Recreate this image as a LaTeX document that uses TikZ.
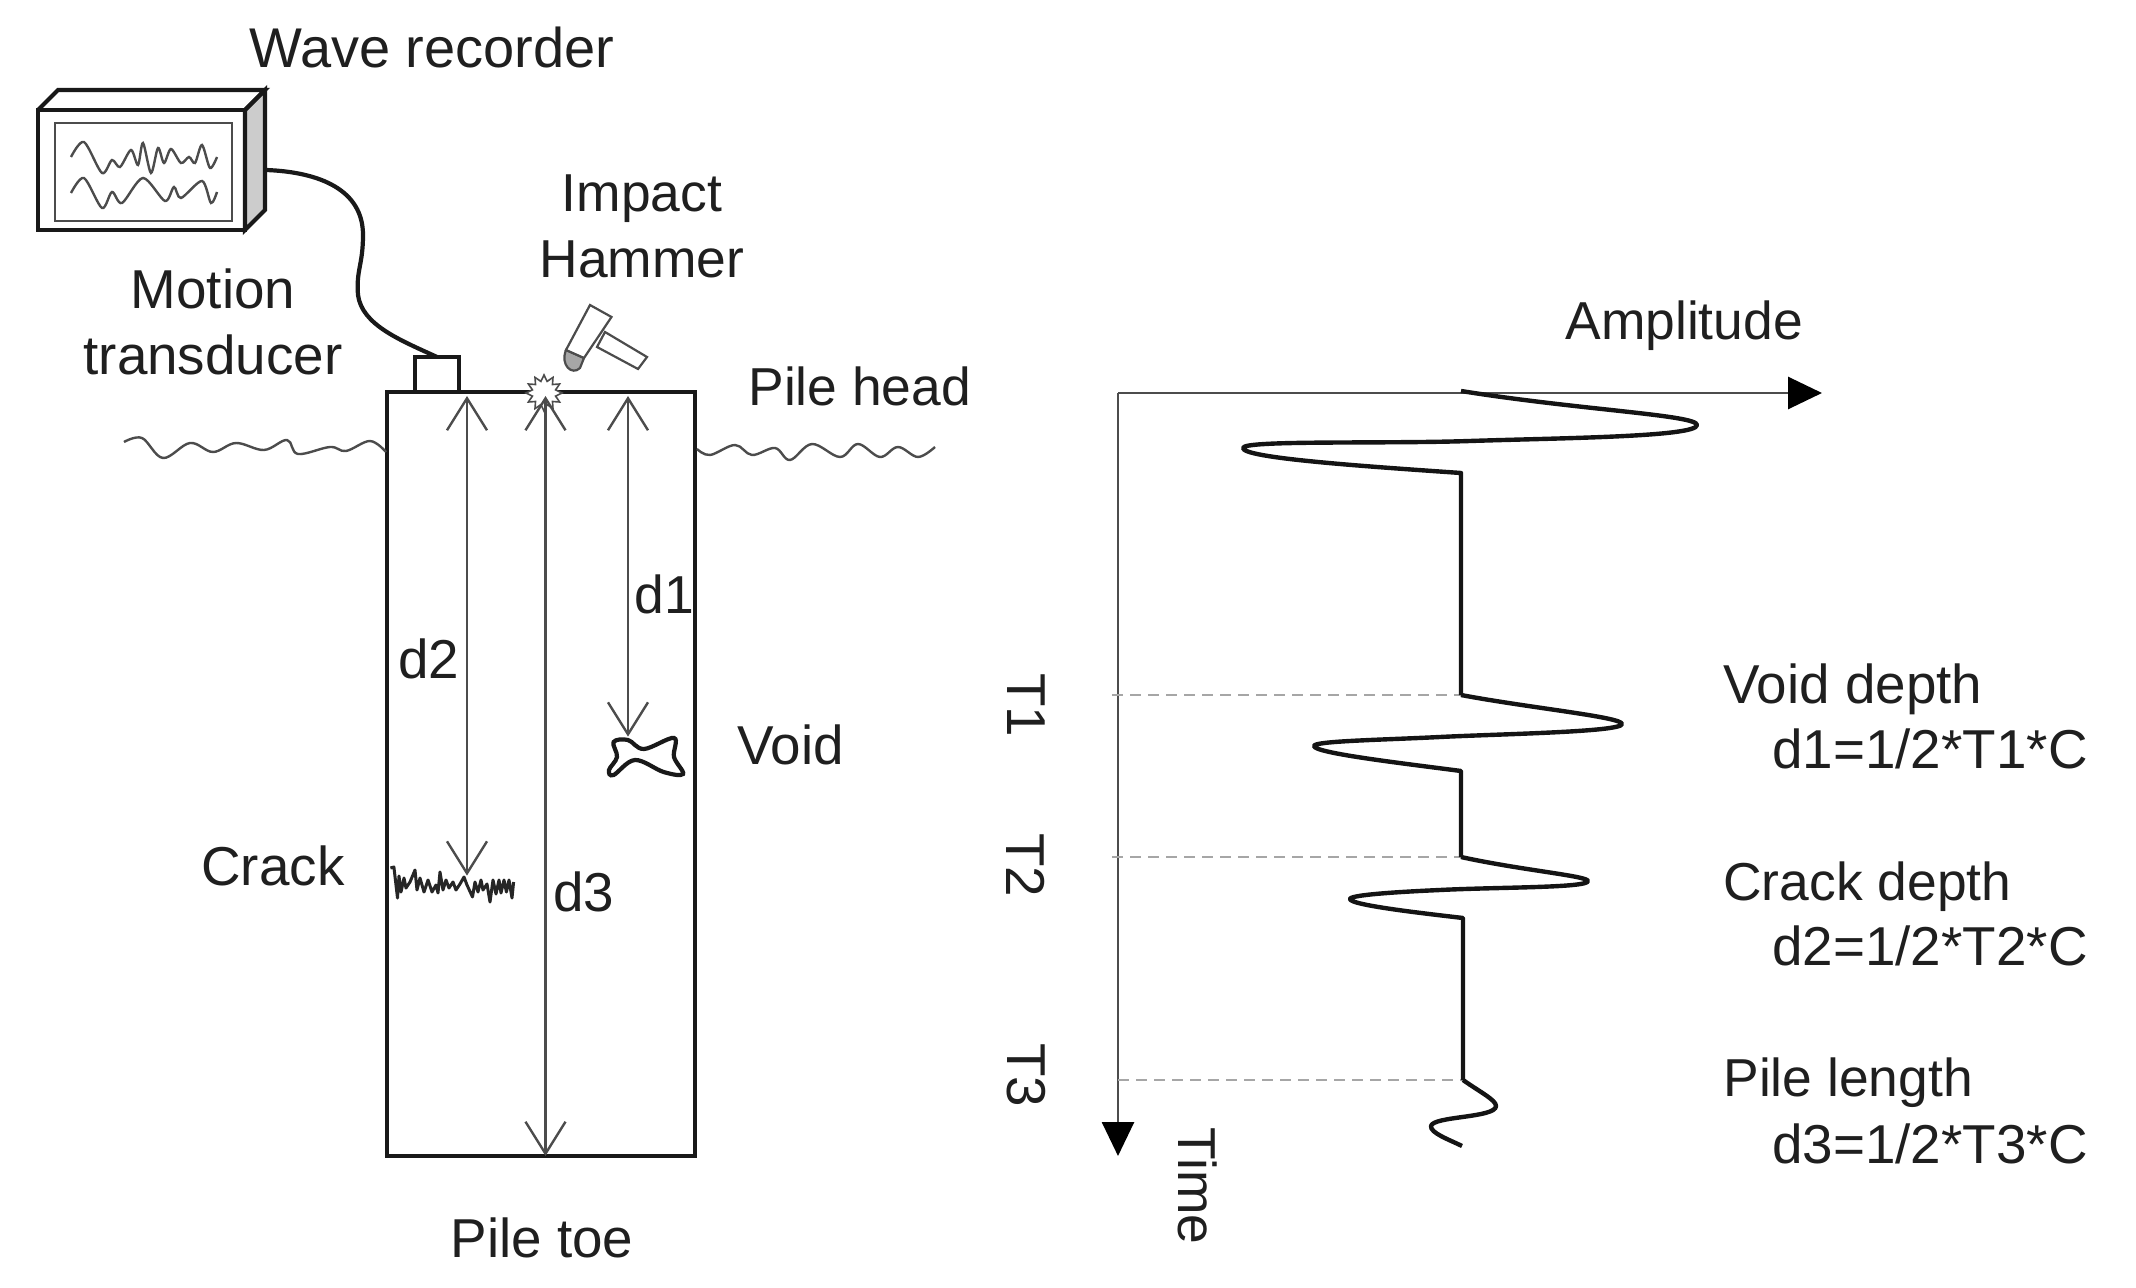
\documentclass[tikz,border=0pt]{standalone}
\usepackage{fontspec}
\setmainfont{Liberation Sans}
\usetikzlibrary{arrows.meta,shapes.geometric}

\begin{document}
\begin{tikzpicture}[x=0.5pt,y=-0.5pt]
\useasboundingbox (0,0) rectangle (2136,1288);
\edef\sizefont{27.4}
\tikzstyle{label}=[inner sep=0pt,font=\fontsize{\sizefont}{33}\selectfont,text=black!88]
\tikzstyle{smalllabel}=[label,font=\fontsize{26.7}{33}\selectfont]
\tikzstyle{widelabel}=[label,font=\fontsize{28}{33}\selectfont]
\tikzstyle{thickline}=[line width=2.1pt,black!90]
\tikzstyle{thinline}=[line width=1.4pt,black!70]
\tikzstyle{depth}=[thinline,{Straight Barb[length=16pt,width=20pt,line width=1.2pt]}-{Straight Barb[length=16pt,width=20pt,line width=1.2pt]}]
\tikzstyle{axisline}=[thinline,-{Triangle[length=17pt,width=16pt,black]}]
\tikzstyle{guide}=[line width=1.2pt,black!35,dash pattern=on 5.5pt off 3.5pt]
\tikzstyle{trace}=[line width=2.2pt,black!92,line join=round]

%% Draw wave recorder
\draw [thickline,fill=black!20] (245,110) -- (265,90) -- (265,210) -- (245,230) -- cycle;
\draw [thickline] (38,110) -- (58,90) -- (265,90) -- (245,110);
\node [draw,thickline,minimum width=103.5pt,minimum height=60pt,inner sep=0pt] at (141.5,170) (recorder) {};
\node [draw,thinline,minimum width=88.5pt,minimum height=49pt,inner sep=0pt] at (143.5,172) (screen) {};
\draw [thinline,line width=1.2pt] plot [smooth,tension=.5] coordinates {(71,157) (84,142) (102,173) (112,160) (120,167) (131,150) (138,165) (143,143) (151,173) (158,148) (164,163) (171,149) (181,163) (189,157) (195,163) (202,145) (210,168) (217,157)};
\draw [thinline,line width=1.2pt] plot [smooth,tension=.5] coordinates {(71,193) (84,178) (102,208) (112,192) (122,203) (143,178) (165,201) (174,187) (181,198) (202,181) (211,203) (217,192)};
\node [widelabel,anchor=base west] at (249,68) (waverec) {Wave recorder};

%% Draw pile
\node [draw,thickline,minimum width=154pt,minimum height=382pt,inner sep=0pt,outer sep=0pt] at (541,774) (pile) {};
\node [draw,thickline,fill=white,minimum width=22pt,minimum height=17.5pt,inner sep=0pt,outer sep=0pt] at (437,374.5) (transducer) {};
\coordinate (cableout) at (266,170);
\draw [thickline] (cableout) .. controls (320,172) and (363,190) .. (363,235) .. controls (363,265) and (356,270) .. (358,295) .. controls (362,325) and (400,340) .. (transducer.north);

%% Draw hammer and spark
\draw [thinline,line width=1.1pt,fill=white] (605,332) -- (647,357) -- (638,369) -- (597,347) -- cycle;
\draw [thinline,line width=1.1pt,fill=black!35] (566,350) .. controls (560,365) and (572,376) .. (580,368) -- (584,358) -- cycle;
\draw [thinline,line width=1.1pt,fill=white] (590,305) -- (611.5,317) -- (584,358) -- (566,350) -- cycle;
\node [star,star points=12,star point ratio=1.5,draw,black!70,line width=.8pt,fill=white,inner sep=0pt,minimum size=18pt] at (544,393) (spark) {};

%% Draw void and crack
\node [inner sep=0pt,minimum size=1pt] at (628,738) (voidtop) {};
\node [inner sep=0pt,minimum size=1pt] at (467,877) (cracktop) {};
\draw [thickline] plot [smooth cycle,tension=.6] coordinates {(613.6,742) (628,740) (644,749) (674,738) (674,757) (683,774) (663.6,772) (635,760) (613.6,775) (609,770) (617,757)};
\draw [thinline,line width=1.5pt,black!85,line join=round] (390.4,868) -- (393.9,867) -- (397.5,898) -- (399,876) -- (401,892) -- (404,878) -- (406,888) -- (410,882) -- (415,870) -- (417,890) -- (420,878) -- (424,892) -- (428,880) -- (432,892) -- (436,885) -- (438,893) -- (440,872) -- (443,890) -- (446,880) -- (449,888) -- (453,882) -- (456,890) -- (460,884) -- (464,877) -- (467,885) -- (472.5,897) -- (475,882) -- (478,892) -- (481,880) -- (483,890) -- (487,884) -- (490,902) -- (493,880) -- (496,894) -- (499,880) -- (501,893) -- (504,880) -- (506.4,892) -- (509,880) -- (512,898) -- (513.6,882);

%% Draw depth arrows
\coordinate (d1head) at (628,396);
\coordinate (d2head) at (467,396);
\coordinate (d3head) at (545.5,396);
\draw [depth] (d1head) -- (voidtop);
\draw [depth] (d2head) -- (cracktop);
\draw [depth] (d3head) -- (pile.south -| d3head);

%% Draw ground
\draw [thinline,line width=1.2pt] plot [smooth,tension=.6] coordinates {(124,442) (142,438) (163,458) (190,443) (213,452) (236,443) (264,450) (287,440) (298,454) (330,447) (346,451) (370,441) (386,452)};
\draw [thinline,line width=1.2pt] plot [smooth,tension=.6] coordinates {(697,449) (710,455) (735,445) (752,455) (775,448) (790,460) (812,444) (840,457) (858,444) (880,457) (898,447) (918,457) (935,447)};

%% Draw pile labels
\node [smalllabel,align=center] at (642,226) (hammer) {Impact\\Hammer};
\node [label,align=center] at (213,322) (motion) {Motion\\transducer};
\node [smalllabel,anchor=base west] at (748,406) (pilehead) {Pile head};
\node [label,anchor=base west] at (737,764) (voidlabel) {Void};
\node [label,anchor=base west] at (201,885) (cracklabel) {Crack};
\node [smalllabel,anchor=base west] at (634,613) (done) {d1};
\node [label,anchor=base west] at (398,678) (dtwo) {d2};
\node [label,anchor=base west] at (553,911) (dthree) {d3};
\node [label,anchor=base] at (542,1257) (piletoe) {Pile toe};

%% Draw time axis and amplitude axis
\coordinate (origin) at (1118,393);
\coordinate (ampend) at (1822,393);
\coordinate (timeend) at (1118,1156);
\draw [axisline] (origin) -- (ampend);
\draw [axisline] (origin) -- (timeend);
\coordinate (tone) at (1461,695);
\coordinate (ttwo) at (1461,857);
\coordinate (tthree) at (1463,1080);
\draw [guide] (1112,695) -- (tone);
\draw [guide] (1112,857) -- (ttwo);
\draw [guide] (1118,1080) -- (tthree);

%% Draw reflected wave
\draw [trace] (1461,391) .. controls (1580,410) and (1697,415) .. (1697,425) .. controls (1697,437) and (1560,438) .. (1470,441) .. controls (1380,444) and (1243,440) .. (1243,448) .. controls (1243,458) and (1360,466) .. (1461,473) -- (tone);
\draw [trace] (tone) .. controls (1530,708) and (1622,717) .. (1622,724) .. controls (1622,732) and (1500,734) .. (1440,737) .. controls (1380,740) and (1314,741) .. (1314,746) .. controls (1314,753) and (1400,763) .. (1461,771) -- (ttwo);
\draw [trace] (ttwo) .. controls (1520,870) and (1588,876) .. (1588,881) .. controls (1588,888) and (1500,887) .. (1440,890) .. controls (1395,892) and (1350,895) .. (1350,899) .. controls (1350,905) and (1420,913) .. (1463,918) -- (tthree);
\draw [trace] (tthree) .. controls (1480,1092) and (1496,1100) .. (1496,1106) .. controls (1496,1118) and (1433,1116) .. (1431,1126) .. controls (1430,1133) and (1450,1140) .. (1462,1146);

%% Draw graph labels
\node [smalllabel,anchor=base west] at (1565,340) (amplitude) {Amplitude};
\node [label,rotate=-90] at (1026,705) (tlabelone) {T1};
\node [label,rotate=-90] at (1026,865) (tlabeltwo) {T2};
\node [label,rotate=-90] at (1026,1075) (tlabelthree) {T3};
\node [smalllabel,rotate=-90] at (1198,1186) (timelabel) {Time};
\node [label,anchor=base west] at (1723,703) (voiddepth) {Void depth};
\node [label,anchor=base east] at (2088,768) (voidform) {d1=1/2*T1*C};
\node [smalllabel,anchor=base west] at (1723,900) (crackdepth) {Crack depth};
\node [label,anchor=base east] at (2088,965) (crackform) {d2=1/2*T2*C};
\node [smalllabel,anchor=base west] at (1723,1096) (pilelength) {Pile length};
\node [label,anchor=base east] at (2088,1163) (pileform) {d3=1/2*T3*C};
\end{tikzpicture}
\end{document}
